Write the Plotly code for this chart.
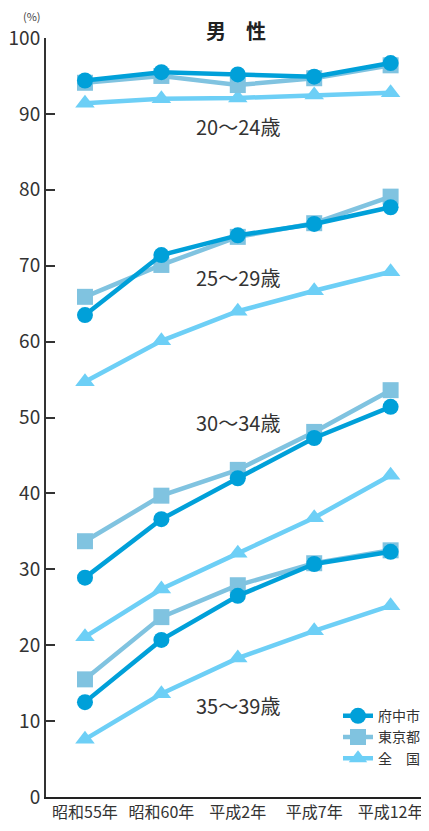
import plotly.graph_objects as go

categories = ["昭和55年", "昭和60年", "平成2年", "平成7年", "平成12年"]
series_names = ["府中市", "東京都", "全　国"]
age_groups = ["20〜24歳", "25〜29歳", "30〜34歳", "35〜39歳"]

fuchu = {
    "20〜24歳": [94.4, 95.5, 95.2, 94.9, 96.7],
    "25〜29歳": [63.5, 71.4, 74.0, 75.5, 77.7],
    "30〜34歳": [28.9, 36.6, 42.0, 47.3, 51.4],
    "35〜39歳": [12.5, 20.7, 26.5, 30.7, 32.3],
}
tokyo = {
    "20〜24歳": [94.1, 95.0, 93.8, 94.7, 96.4],
    "25〜29歳": [65.9, 70.1, 73.8, 75.6, 79.1],
    "30〜34歳": [33.7, 39.7, 43.1, 48.1, 53.6],
    "35〜39歳": [15.5, 23.7, 27.9, 30.8, 32.5],
}
national = {
    "20〜24歳": [91.4, 92.0, 92.1, 92.5, 92.8],
    "25〜29歳": [54.7, 60.1, 64.0, 66.7, 69.2],
    "30〜34歳": [21.1, 27.4, 32.1, 36.8, 42.4],
    "35〜39歳": [7.6, 13.6, 18.3, 21.9, 25.2],
}
label_y = [88.3, 68.4, 49.3, 12.0]
y_ticks = [0, 10, 20, 30, 40, 50, 60, 70, 80, 90, 100]

xs = list(range(len(categories)))
FONT = "Noto Sans CJK JP"

styles = [
    (national, series_names[2], "#6dcff6", "triangle-up", 17),
    (tokyo, series_names[1], "#80c3e0", "square", 16),
    (fuchu, series_names[0], "#00a0d9", "circle", 16),
]

fig = go.Figure()
for data, name, color, symbol, msize in styles:
    for i, ag in enumerate(age_groups):
        fig.add_trace(go.Scatter(
            x=xs, y=data[ag], mode="lines+markers", name=name,
            legendgroup=name, showlegend=(i == 0),
            line=dict(color=color, width=4.5),
            marker=dict(symbol=symbol, size=msize, color=color),
            hoverinfo="skip",
        ))

for ag, ly in zip(age_groups, label_y):
    fig.add_annotation(x=2, y=ly, text=ag, showarrow=False,
                       font=dict(family=FONT, size=20, color="#333333"))

fig.add_annotation(xref="paper", yref="paper", x=0.5, y=1.0, yshift=8,
                   text="<b>男　性</b>", showarrow=False,
                   font=dict(family=FONT, size=20, color="#222222"),
                   xanchor="center", yanchor="middle")
fig.add_annotation(xref="paper", yref="paper", x=-0.065, y=1.0, yshift=22,
                   text="(%)", showarrow=False,
                   font=dict(family=FONT, size=11, color="#444444"),
                   xanchor="left", yanchor="middle")

fig.update_layout(
    width=421, height=823,
    margin=dict(l=38, r=4, t=30, b=34, autoexpand=False),
    plot_bgcolor="white", paper_bgcolor="white",
    font=dict(family=FONT, color="#333333"),
    legend=dict(x=1.0, xanchor="right", y=0.03, yanchor="bottom",
                font=dict(size=14, color="#333333"), bgcolor="rgba(0,0,0,0)",
                tracegroupgap=0, itemwidth=30, traceorder="reversed"),
)
fig.update_xaxes(range=[-0.51, 4.45], tickvals=xs, ticktext=categories,
                 showgrid=False, zeroline=False, showline=True, automargin=False,
                 linecolor="#222222", linewidth=2, ticks="",
                 tickfont=dict(size=16, color="#333333"))
fig.update_yaxes(range=[0, 100], tickvals=y_ticks, showgrid=False, automargin=False,
                 zeroline=False, showline=True, linecolor="#333333",
                 linewidth=2, ticks="inside", ticklen=9, tickwidth=1.5,
                 tickcolor="#333333",
                 tickfont=dict(size=19, color="#333333"))

fig.write_html("out.html")
